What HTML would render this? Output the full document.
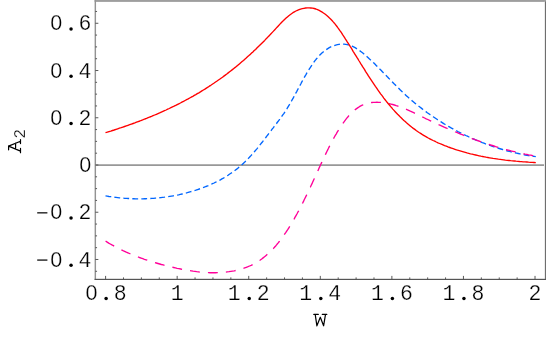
<!DOCTYPE html>
<html><head><meta charset="utf-8"><title>A2 vs W</title>
<style>
html,body{margin:0;padding:0;background:#fff;}
body{width:546px;height:337px;overflow:hidden;font-family:"Liberation Mono",monospace;}
svg{display:block;}
text{font-family:"Liberation Mono",monospace;font-size:21.5px;fill:#000;stroke:#fff;stroke-width:0.25px;paint-order:fill stroke;}
text.z{font-family:"Liberation Sans",sans-serif;}
.lab{filter:grayscale(1);}
</style></head><body>
<svg width="546" height="337" viewBox="0 0 546 337">
<rect width="546" height="337" fill="#fff"/>
<!-- zero line -->
<rect x="95" y="164.25" width="451" height="1.75" fill="#989898"/>
<!-- curves -->
<g fill="none" stroke-width="1.35" stroke-linejoin="round">
<path d="M105.5,195.9 L107.2,196.2 L109.0,196.5 L110.7,196.7 L112.5,197.0 L114.2,197.2 L116.0,197.4 L117.7,197.6 L119.5,197.8 L121.3,198.0 L123.0,198.1 L124.8,198.3 L126.6,198.4 L128.4,198.5 L130.2,198.6 L132.0,198.7 L133.8,198.7 L135.6,198.8 L137.4,198.8 L139.2,198.8 L141.0,198.8 L142.8,198.8 L144.6,198.7 L146.4,198.7 L148.2,198.6 L150.0,198.5 L151.8,198.4 L153.6,198.3 L155.4,198.1 L157.2,198.0 L159.0,197.8 L160.8,197.6 L162.6,197.4 L164.4,197.2 L166.2,196.9 L167.9,196.7 L169.7,196.4 L171.5,196.1 L173.3,195.8 L175.1,195.5 L176.8,195.1 L178.6,194.8 L180.3,194.4 L182.1,194.0 L183.8,193.6 L185.6,193.1 L187.3,192.7 L189.1,192.2 L190.8,191.7 L192.5,191.2 L194.2,190.7 L195.9,190.2 L197.6,189.6 L199.3,189.0 L201.0,188.4 L202.6,187.8 L204.3,187.2 L205.9,186.5 L207.6,185.9 L209.2,185.2 L210.8,184.5 L212.5,183.7 L214.1,183.0 L215.7,182.2 L217.2,181.4 L218.8,180.6 L220.4,179.8 L221.9,178.9 L223.4,178.1 L225.0,177.2 L226.5,176.2 L228.0,175.3 L229.4,174.3 L230.9,173.3 L232.4,172.3 L233.8,171.3 L235.2,170.2 L236.7,169.1 L238.1,168.0 L239.4,166.8 L240.8,165.7 L242.2,164.5 L243.5,163.2 L244.8,162.0 L246.1,160.7 L247.4,159.4 L248.7,158.1 L249.9,156.8 L251.2,155.4 L252.4,154.0 L253.6,152.7 L254.8,151.3 L256.0,149.9 L257.1,148.6 L258.2,147.2 L259.3,145.8 L260.4,144.4 L261.5,143.0 L262.6,141.7 L263.7,140.3 L264.7,138.9 L265.8,137.5 L266.8,136.1 L267.9,134.8 L268.9,133.4 L270.0,132.0 L271.1,130.6 L272.1,129.2 L273.2,127.8 L274.3,126.3 L275.4,124.9 L276.5,123.5 L277.6,122.0 L278.7,120.6 L279.8,119.2 L280.9,117.7 L281.9,116.2 L283.0,114.7 L284.0,113.3 L285.0,111.7 L286.0,110.2 L287.0,108.7 L287.9,107.2 L288.8,105.7 L289.8,104.1 L290.7,102.6 L291.5,101.0 L292.4,99.4 L293.3,97.9 L294.1,96.3 L295.0,94.7 L295.8,93.1 L296.7,91.6 L297.5,90.0 L298.4,88.4 L299.2,86.8 L300.1,85.2 L300.9,83.7 L301.7,82.1 L302.6,80.5 L303.5,78.9 L304.3,77.4 L305.2,75.8 L306.1,74.3 L307.0,72.7 L308.0,71.2 L308.9,69.7 L309.9,68.2 L310.9,66.6 L311.9,65.1 L312.9,63.7 L313.9,62.2 L315.0,60.7 L316.1,59.3 L317.3,57.9 L318.4,56.6 L319.6,55.3 L320.9,54.0 L322.2,52.8 L323.5,51.7 L324.9,50.6 L326.3,49.6 L327.8,48.6 L329.3,47.7 L330.8,46.9 L332.4,46.2 L334.1,45.6 L335.7,45.1 L337.4,44.7 L339.0,44.4 L340.7,44.2 L342.4,44.1 L344.0,44.2 L345.7,44.4 L347.3,44.7 L348.9,45.1 L350.5,45.6 L352.1,46.2 L353.6,46.9 L355.1,47.7 L356.6,48.6 L358.1,49.6 L359.6,50.6 L361.1,51.7 L362.5,52.8 L364.0,54.0 L365.4,55.2 L366.8,56.4 L368.2,57.7 L369.5,59.0 L370.9,60.2 L372.2,61.5 L373.6,62.8 L374.9,64.1 L376.2,65.4 L377.5,66.7 L378.8,68.0 L380.0,69.3 L381.3,70.6 L382.6,71.9 L383.8,73.2 L385.1,74.5 L386.4,75.8 L387.6,77.1 L388.9,78.4 L390.1,79.7 L391.3,81.0 L392.6,82.2 L393.8,83.5 L395.1,84.8 L396.3,86.0 L397.6,87.3 L398.9,88.5 L400.1,89.8 L401.4,91.0 L402.7,92.3 L404.0,93.5 L405.3,94.7 L406.6,95.9 L407.9,97.1 L409.2,98.2 L410.6,99.4 L411.9,100.6 L413.3,101.7 L414.7,102.9 L416.0,104.0 L417.4,105.1 L418.8,106.2 L420.2,107.3 L421.6,108.4 L423.0,109.5 L424.5,110.6 L425.9,111.6 L427.3,112.7 L428.8,113.7 L430.3,114.8 L431.7,115.8 L433.2,116.8 L434.7,117.8 L436.2,118.8 L437.7,119.8 L439.2,120.7 L440.7,121.7 L442.2,122.6 L443.7,123.6 L445.3,124.5 L446.8,125.4 L448.4,126.3 L449.9,127.2 L451.5,128.1 L453.0,128.9 L454.6,129.8 L456.2,130.6 L457.8,131.5 L459.4,132.3 L461.0,133.1 L462.6,133.9 L464.2,134.7 L465.8,135.5 L467.4,136.2 L469.0,137.0 L470.7,137.7 L472.3,138.5 L474.0,139.2 L475.6,139.9 L477.3,140.6 L478.9,141.3 L480.6,141.9 L482.3,142.6 L483.9,143.2 L485.6,143.9 L487.3,144.5 L489.0,145.1 L490.7,145.7 L492.4,146.3 L494.1,146.9 L495.8,147.4 L497.5,148.0 L499.2,148.5 L500.9,149.0 L502.6,149.5 L504.3,150.0 L506.1,150.5 L507.8,151.0 L509.5,151.4 L511.2,151.9 L513.0,152.3 L514.7,152.7 L516.5,153.1 L518.2,153.5 L520.0,153.9 L521.7,154.3 L523.5,154.6 L525.2,155.0 L527.0,155.3 L528.7,155.6 L530.5,155.9 L532.3,156.2 L534.0,156.4 L535.8,156.7" stroke="#0066ff" stroke-dasharray="5.8 3.2"/>
<path d="M105.6,241.2 L107.2,242.1 L108.7,243.1 L110.3,244.0 L111.9,244.9 L113.4,245.7 L115.0,246.6 L116.6,247.4 L118.2,248.2 L119.8,249.0 L121.4,249.8 L123.0,250.6 L124.6,251.3 L126.3,252.1 L127.9,252.8 L129.5,253.5 L131.2,254.2 L132.8,254.9 L134.4,255.5 L136.1,256.2 L137.8,256.8 L139.4,257.5 L141.1,258.1 L142.8,258.7 L144.4,259.3 L146.1,259.8 L147.8,260.4 L149.5,260.9 L151.2,261.5 L152.9,262.0 L154.6,262.5 L156.3,263.0 L158.0,263.5 L159.7,264.0 L161.4,264.5 L163.2,264.9 L164.9,265.4 L166.6,265.8 L168.4,266.2 L170.1,266.7 L171.9,267.1 L173.6,267.5 L175.4,267.9 L177.1,268.3 L178.9,268.6 L180.7,269.0 L182.4,269.4 L184.2,269.7 L186.0,270.0 L187.8,270.3 L189.6,270.6 L191.3,270.9 L193.1,271.2 L194.9,271.4 L196.7,271.7 L198.5,271.9 L200.3,272.1 L202.1,272.2 L203.9,272.4 L205.7,272.5 L207.5,272.6 L209.3,272.7 L211.1,272.7 L212.9,272.7 L214.7,272.7 L216.5,272.7 L218.2,272.6 L220.0,272.6 L221.8,272.4 L223.6,272.3 L225.4,272.1 L227.2,271.9 L229.0,271.7 L230.8,271.4 L232.5,271.1 L234.3,270.8 L236.1,270.4 L237.8,270.0 L239.5,269.5 L241.3,269.0 L243.0,268.5 L244.7,267.9 L246.3,267.3 L248.0,266.7 L249.6,266.0 L251.2,265.3 L252.8,264.5 L254.3,263.7 L255.8,262.8 L257.3,261.9 L258.8,261.0 L260.3,260.0 L261.7,259.0 L263.1,257.9 L264.5,256.8 L265.8,255.7 L267.1,254.6 L268.5,253.4 L269.7,252.2 L271.0,250.9 L272.2,249.7 L273.5,248.4 L274.7,247.0 L275.9,245.7 L277.0,244.3 L278.2,242.9 L279.3,241.5 L280.4,240.1 L281.5,238.7 L282.6,237.2 L283.6,235.7 L284.6,234.2 L285.7,232.7 L286.7,231.2 L287.7,229.7 L288.7,228.1 L289.6,226.6 L290.6,225.0 L291.5,223.5 L292.4,221.9 L293.3,220.3 L294.2,218.8 L295.1,217.2 L296.0,215.6 L296.9,214.0 L297.7,212.5 L298.6,210.9 L299.4,209.3 L300.2,207.7 L301.1,206.2 L301.9,204.6 L302.7,203.0 L303.5,201.4 L304.2,199.8 L305.0,198.2 L305.8,196.6 L306.6,195.0 L307.3,193.5 L308.1,191.9 L308.9,190.3 L309.6,188.7 L310.4,187.1 L311.1,185.5 L311.9,183.9 L312.6,182.3 L313.3,180.7 L314.1,179.0 L314.8,177.4 L315.5,175.8 L316.3,174.2 L317.0,172.6 L317.8,171.0 L318.5,169.4 L319.2,167.8 L320.0,166.1 L320.7,164.5 L321.5,162.9 L322.2,161.3 L323.0,159.6 L323.7,158.0 L324.5,156.4 L325.3,154.8 L326.1,153.1 L326.9,151.5 L327.7,149.9 L328.5,148.3 L329.3,146.6 L330.1,145.0 L330.9,143.4 L331.8,141.8 L332.7,140.2 L333.5,138.6 L334.4,137.0 L335.3,135.4 L336.3,133.8 L337.2,132.2 L338.2,130.6 L339.2,129.0 L340.2,127.4 L341.2,125.9 L342.2,124.3 L343.3,122.8 L344.4,121.3 L345.5,119.8 L346.6,118.4 L347.8,117.0 L348.9,115.6 L350.1,114.3 L351.4,113.1 L352.6,111.8 L353.9,110.7 L355.2,109.6 L356.6,108.6 L358.0,107.6 L359.4,106.7 L360.8,105.9 L362.3,105.2 L363.8,104.5 L365.4,104.0 L366.9,103.5 L368.5,103.1 L370.2,102.8 L371.8,102.5 L373.5,102.4 L375.2,102.3 L376.9,102.2 L378.6,102.3 L380.4,102.4 L382.1,102.5 L383.9,102.7 L385.6,103.0 L387.4,103.3 L389.2,103.7 L390.9,104.1 L392.7,104.5 L394.4,105.0 L396.2,105.6 L397.9,106.1 L399.7,106.7 L401.4,107.4 L403.1,108.0 L404.8,108.7 L406.4,109.4 L408.1,110.1 L409.8,110.9 L411.4,111.6 L413.1,112.4 L414.7,113.2 L416.4,114.0 L418.0,114.8 L419.6,115.6 L421.3,116.4 L422.9,117.2 L424.6,118.0 L426.2,118.8 L427.8,119.5 L429.5,120.3 L431.1,121.1 L432.7,121.9 L434.4,122.6 L436.0,123.4 L437.6,124.1 L439.3,124.9 L440.9,125.6 L442.5,126.3 L444.2,127.1 L445.8,127.8 L447.4,128.5 L449.1,129.2 L450.7,129.9 L452.4,130.6 L454.0,131.3 L455.6,132.0 L457.3,132.7 L458.9,133.4 L460.6,134.1 L462.2,134.7 L463.9,135.4 L465.5,136.0 L467.2,136.7 L468.8,137.3 L470.5,138.0 L472.1,138.6 L473.8,139.2 L475.5,139.8 L477.1,140.4 L478.8,141.0 L480.5,141.6 L482.2,142.2 L483.8,142.8 L485.5,143.3 L487.2,143.9 L488.9,144.4 L490.6,145.0 L492.3,145.5 L493.9,146.0 L495.6,146.6 L497.3,147.1 L499.1,147.6 L500.8,148.1 L502.5,148.6 L504.2,149.0 L505.9,149.5 L507.6,150.0 L509.4,150.4 L511.1,150.9 L512.8,151.3 L514.6,151.7 L516.3,152.1 L518.1,152.6 L519.8,153.0 L521.6,153.3 L523.3,153.7 L525.1,154.1 L526.9,154.4 L528.6,154.8 L530.4,155.1 L532.2,155.5 L534.0,155.8 L535.8,156.1" stroke="#ff0099" stroke-dasharray="9.9 8.1"/>
<path d="M105.5,132.7 L107.3,132.2 L109.0,131.6 L110.8,131.1 L112.5,130.5 L114.2,130.0 L116.0,129.4 L117.7,128.8 L119.4,128.2 L121.2,127.7 L122.9,127.1 L124.6,126.5 L126.3,125.9 L128.0,125.3 L129.7,124.7 L131.4,124.1 L133.1,123.5 L134.8,122.9 L136.5,122.2 L138.2,121.6 L139.8,121.0 L141.5,120.3 L143.2,119.7 L144.8,119.0 L146.5,118.4 L148.2,117.7 L149.8,117.0 L151.5,116.4 L153.1,115.7 L154.7,115.0 L156.4,114.3 L158.0,113.6 L159.6,112.9 L161.3,112.1 L162.9,111.4 L164.5,110.7 L166.1,110.0 L167.7,109.2 L169.3,108.5 L170.9,107.7 L172.5,106.9 L174.1,106.2 L175.7,105.4 L177.2,104.6 L178.8,103.8 L180.4,103.0 L181.9,102.2 L183.5,101.4 L185.1,100.5 L186.6,99.7 L188.2,98.9 L189.7,98.0 L191.2,97.2 L192.8,96.3 L194.3,95.4 L195.8,94.6 L197.3,93.7 L198.9,92.8 L200.4,91.9 L201.9,90.9 L203.4,90.0 L204.9,89.1 L206.4,88.1 L207.9,87.2 L209.3,86.2 L210.8,85.3 L212.3,84.3 L213.8,83.3 L215.2,82.3 L216.7,81.3 L218.1,80.3 L219.6,79.3 L221.0,78.2 L222.5,77.2 L223.9,76.1 L225.3,75.1 L226.8,74.0 L228.2,72.9 L229.6,71.8 L231.0,70.7 L232.4,69.6 L233.8,68.5 L235.2,67.4 L236.6,66.2 L238.0,65.1 L239.4,63.9 L240.7,62.8 L242.1,61.6 L243.5,60.4 L244.8,59.2 L246.2,58.0 L247.5,56.8 L248.9,55.6 L250.2,54.4 L251.6,53.1 L252.9,51.9 L254.2,50.6 L255.6,49.4 L256.9,48.1 L258.2,46.8 L259.5,45.6 L260.8,44.3 L262.1,43.0 L263.4,41.7 L264.7,40.4 L265.9,39.1 L267.2,37.8 L268.5,36.4 L269.8,35.1 L271.0,33.8 L272.3,32.4 L273.5,31.1 L274.8,29.7 L276.0,28.4 L277.3,27.0 L278.5,25.7 L279.7,24.4 L281.0,23.0 L282.2,21.7 L283.5,20.5 L284.8,19.2 L286.1,18.0 L287.4,16.9 L288.8,15.7 L290.1,14.7 L291.5,13.7 L292.9,12.7 L294.4,11.8 L295.9,11.0 L297.4,10.3 L299.0,9.7 L300.6,9.1 L302.2,8.7 L303.9,8.3 L305.6,8.0 L307.3,7.9 L309.1,7.9 L310.8,8.0 L312.5,8.2 L314.2,8.5 L315.9,9.0 L317.5,9.7 L319.2,10.4 L320.8,11.3 L322.3,12.2 L323.8,13.2 L325.3,14.3 L326.8,15.5 L328.2,16.7 L329.5,18.0 L330.8,19.2 L332.0,20.5 L333.2,21.9 L334.4,23.2 L335.5,24.6 L336.6,26.0 L337.6,27.4 L338.7,28.8 L339.7,30.3 L340.7,31.7 L341.7,33.2 L342.6,34.7 L343.6,36.1 L344.6,37.6 L345.5,39.1 L346.5,40.6 L347.4,42.1 L348.4,43.6 L349.4,45.2 L350.3,46.7 L351.3,48.2 L352.2,49.7 L353.1,51.3 L354.1,52.8 L355.0,54.3 L356.0,55.9 L356.9,57.4 L357.9,58.9 L358.8,60.5 L359.8,62.0 L360.7,63.6 L361.7,65.1 L362.6,66.7 L363.6,68.2 L364.6,69.7 L365.5,71.3 L366.5,72.8 L367.5,74.3 L368.4,75.9 L369.4,77.4 L370.4,78.9 L371.4,80.4 L372.4,81.9 L373.4,83.4 L374.4,84.9 L375.4,86.4 L376.5,87.9 L377.5,89.4 L378.5,90.8 L379.6,92.3 L380.6,93.8 L381.7,95.2 L382.8,96.6 L383.8,98.1 L384.9,99.5 L386.0,100.9 L387.1,102.3 L388.3,103.7 L389.4,105.0 L390.5,106.4 L391.7,107.7 L392.8,109.1 L394.0,110.4 L395.2,111.7 L396.4,113.0 L397.6,114.3 L398.9,115.6 L400.1,116.8 L401.4,118.0 L402.6,119.3 L403.9,120.5 L405.2,121.6 L406.5,122.8 L407.9,124.0 L409.2,125.1 L410.6,126.2 L411.9,127.3 L413.3,128.4 L414.8,129.4 L416.2,130.5 L417.6,131.5 L419.1,132.5 L420.6,133.4 L422.1,134.4 L423.6,135.3 L425.1,136.2 L426.7,137.1 L428.3,138.0 L429.8,138.8 L431.4,139.7 L433.1,140.5 L434.7,141.2 L436.3,142.0 L438.0,142.8 L439.6,143.5 L441.3,144.2 L443.0,144.9 L444.6,145.6 L446.3,146.2 L448.0,146.9 L449.7,147.5 L451.4,148.1 L453.2,148.7 L454.9,149.3 L456.6,149.9 L458.3,150.4 L460.1,150.9 L461.8,151.4 L463.5,151.9 L465.3,152.4 L467.0,152.9 L468.7,153.3 L470.5,153.8 L472.2,154.2 L473.9,154.6 L475.7,155.0 L477.4,155.4 L479.1,155.8 L480.9,156.2 L482.6,156.5 L484.4,156.8 L486.1,157.2 L487.9,157.5 L489.6,157.8 L491.4,158.1 L493.1,158.4 L494.9,158.6 L496.6,158.9 L498.4,159.2 L500.2,159.4 L501.9,159.6 L503.7,159.8 L505.4,160.1 L507.2,160.3 L509.0,160.5 L510.7,160.7 L512.5,160.8 L514.3,161.0 L516.1,161.2 L517.9,161.3 L519.6,161.5 L521.4,161.6 L523.2,161.8 L525.0,161.9 L526.8,162.0 L528.6,162.2 L530.4,162.3 L532.2,162.4 L534.0,162.5 L535.8,162.6" stroke="#ff0000"/>
</g>
<!-- frame -->
<rect x="94.6" y="0" width="451.4" height="1.9" fill="#9e9e9e"/>
<rect x="94.6" y="0" width="1.45" height="280" fill="#939393"/>
<rect x="545" y="1.5" width="1" height="278.5" fill="#6e6e6e"/><rect x="544" y="1.9" width="1" height="277" fill="#ececec"/>
<rect x="94.6" y="278.8" width="451.4" height="1.2" fill="#555"/>
<g stroke="#505050" stroke-width="0.95">
<line x1="105.60" y1="279.5" x2="105.60" y2="275.90"/>
<line x1="123.49" y1="279.5" x2="123.49" y2="277.40"/>
<line x1="141.38" y1="279.5" x2="141.38" y2="277.40"/>
<line x1="159.28" y1="279.5" x2="159.28" y2="277.40"/>
<line x1="177.17" y1="279.5" x2="177.17" y2="275.90"/>
<line x1="195.06" y1="279.5" x2="195.06" y2="277.40"/>
<line x1="212.96" y1="279.5" x2="212.96" y2="277.40"/>
<line x1="230.85" y1="279.5" x2="230.85" y2="277.40"/>
<line x1="248.74" y1="279.5" x2="248.74" y2="275.90"/>
<line x1="266.63" y1="279.5" x2="266.63" y2="277.40"/>
<line x1="284.52" y1="279.5" x2="284.52" y2="277.40"/>
<line x1="302.42" y1="279.5" x2="302.42" y2="277.40"/>
<line x1="320.31" y1="279.5" x2="320.31" y2="275.90"/>
<line x1="338.20" y1="279.5" x2="338.20" y2="277.40"/>
<line x1="356.10" y1="279.5" x2="356.10" y2="277.40"/>
<line x1="373.99" y1="279.5" x2="373.99" y2="277.40"/>
<line x1="391.88" y1="279.5" x2="391.88" y2="275.90"/>
<line x1="409.77" y1="279.5" x2="409.77" y2="277.40"/>
<line x1="427.67" y1="279.5" x2="427.67" y2="277.40"/>
<line x1="445.56" y1="279.5" x2="445.56" y2="277.40"/>
<line x1="463.45" y1="279.5" x2="463.45" y2="275.90"/>
<line x1="481.34" y1="279.5" x2="481.34" y2="277.40"/>
<line x1="499.24" y1="279.5" x2="499.24" y2="277.40"/>
<line x1="517.13" y1="279.5" x2="517.13" y2="277.40"/>
<line x1="535.02" y1="279.5" x2="535.02" y2="275.90"/>
<line x1="95.3" y1="271.29" x2="97.05" y2="271.29"/>
<line x1="95.3" y1="259.48" x2="98.35" y2="259.48"/>
<line x1="95.3" y1="247.67" x2="97.05" y2="247.67"/>
<line x1="95.3" y1="235.86" x2="97.05" y2="235.86"/>
<line x1="95.3" y1="224.05" x2="97.05" y2="224.05"/>
<line x1="95.3" y1="212.24" x2="98.35" y2="212.24"/>
<line x1="95.3" y1="200.43" x2="97.05" y2="200.43"/>
<line x1="95.3" y1="188.62" x2="97.05" y2="188.62"/>
<line x1="95.3" y1="176.81" x2="97.05" y2="176.81"/>
<line x1="95.3" y1="165.00" x2="98.35" y2="165.00"/>
<line x1="95.3" y1="153.19" x2="97.05" y2="153.19"/>
<line x1="95.3" y1="141.38" x2="97.05" y2="141.38"/>
<line x1="95.3" y1="129.57" x2="97.05" y2="129.57"/>
<line x1="95.3" y1="117.76" x2="98.35" y2="117.76"/>
<line x1="95.3" y1="105.95" x2="97.05" y2="105.95"/>
<line x1="95.3" y1="94.14" x2="97.05" y2="94.14"/>
<line x1="95.3" y1="82.33" x2="97.05" y2="82.33"/>
<line x1="95.3" y1="70.52" x2="98.35" y2="70.52"/>
<line x1="95.3" y1="58.71" x2="97.05" y2="58.71"/>
<line x1="95.3" y1="46.90" x2="97.05" y2="46.90"/>
<line x1="95.3" y1="35.09" x2="97.05" y2="35.09"/>
<line x1="95.3" y1="23.28" x2="98.35" y2="23.28"/>
<line x1="95.3" y1="11.47" x2="97.05" y2="11.47"/>
</g>
<g class="lab">
<text class="z" x="85.42" y="299.90">0</text><circle cx="106.10" cy="298.40" r="1.75" fill="#000"/><text x="113.65" y="299.90">8</text>
<text x="170.72" y="299.90">1</text>
<text x="227.79" y="299.90">1</text><circle cx="249.24" cy="298.40" r="1.75" fill="#000"/><text x="256.79" y="299.90">2</text>
<text x="299.36" y="299.90">1</text><circle cx="320.81" cy="298.40" r="1.75" fill="#000"/><text x="328.36" y="299.90">4</text>
<text x="370.93" y="299.90">1</text><circle cx="392.38" cy="298.40" r="1.75" fill="#000"/><text x="399.93" y="299.90">6</text>
<text x="442.50" y="299.90">1</text><circle cx="463.95" cy="298.40" r="1.75" fill="#000"/><text x="471.50" y="299.90">8</text>
<text x="528.57" y="299.90">2</text>
<text class="z" x="50.37" y="30.43">0</text><circle cx="71.05" cy="28.93" r="1.75" fill="#000"/><text x="78.60" y="30.43">6</text>
<text class="z" x="50.37" y="77.66">0</text><circle cx="71.05" cy="76.16" r="1.75" fill="#000"/><text x="78.60" y="77.66">4</text>
<text class="z" x="50.37" y="124.90">0</text><circle cx="71.05" cy="123.40" r="1.75" fill="#000"/><text x="78.60" y="124.90">2</text>
<text class="z" x="79.37" y="172.15">0</text>
<rect x="37.20" y="212.19" width="10.20" height="1.3" fill="#111"/><text class="z" x="50.37" y="219.39">0</text><circle cx="71.05" cy="217.89" r="1.75" fill="#000"/><text x="78.60" y="219.39">2</text>
<rect x="37.20" y="259.43" width="10.20" height="1.3" fill="#111"/><text class="z" x="50.37" y="266.63">0</text><circle cx="71.05" cy="265.13" r="1.75" fill="#000"/><text x="78.60" y="266.63">4</text>
<g fill="none" stroke="#000" stroke-width="1.2" stroke-linecap="round" stroke-linejoin="round">
<path d="M313.8,314.4 H318.3 M322.3,314.4 H326.8 M315.2,314.4 L316.9,325.8 L320.3,317.2 L323.6,325.8 L325.5,314.4"/>
<path d="M20.5,141.2 L8.6,146.1 L20.5,151.1 M8.6,145.9 V149.8 M20.5,139.5 V143.6 M20.5,148.4 V152.7 M15.6,143.2 V149.1"/>
</g>
<g transform="translate(21.5,152.8) rotate(-90)"><text x="14.4" y="3.2" style="font-size:16px;">2</text></g>
</g>
</svg>
</body></html>
